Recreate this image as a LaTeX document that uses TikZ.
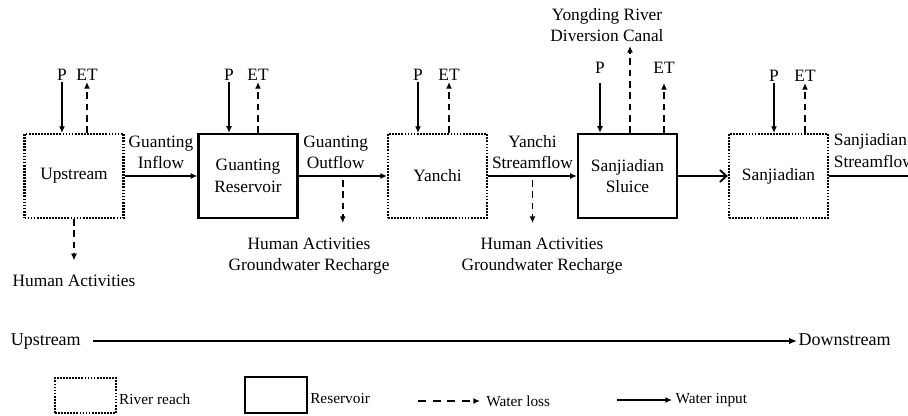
\documentclass[tikz,border=0pt]{standalone}
\usepackage{fontspec}
\setmainfont{Liberation Serif}
\usepackage{tikz}
\usetikzlibrary{arrows.meta,positioning}

\tikzset{
  reach/.style={draw,line width=1.6pt,dash pattern=on 1.3pt off 1pt,minimum width=74.25pt,minimum height=63pt,align=center},
  res/.style={draw,line width=1.7pt,minimum width=74.25pt,minimum height=63pt,align=center},
  flowin/.style={line width=1.25pt,-{Latex[length=5pt,width=4.5pt]}},
  loss/.style={line width=1.3pt,dash pattern=on 5pt off 3.5pt,-{Latex[length=5pt,width=4.5pt]}},
  pet/.style={anchor=south,inner sep=0pt,outer ysep=1.5pt},
  flab/.style={above=5pt,inner sep=0pt,align=center},
  ha/.style={align=center,inner sep=0pt,outer ysep=11pt,anchor=north},
  lgtext/.style={inner sep=0pt,font=\fontsize{11.5}{13}\selectfont}
}

\begin{document}
\begin{tikzpicture}[x=0.75pt,y=-0.75pt,font=\fontsize{13}{16}\selectfont]
\useasboundingbox (0,0) rectangle (908,415);

\node[reach] (up) at (74,176) {Upstream};
\node[res] (gr) at (248,176) {Guanting\\Reservoir};
\node[reach] (yc) at (437.5,176) {Yanchi};
\node[res] (sl) at (627.5,176) {Sanjiadian\\Sluice};
\node[reach] (sj) at (778.5,176) {Sanjiadian};

\node[pet] (pU) at (62,82) {P};
\node[pet] (eU) at (87,82) {ET};
\node[pet] (pG) at (229,82) {P};
\node[pet] (eG) at (258,82) {ET};
\node[pet] (pY) at (418,82) {P};
\node[pet] (eY) at (449,82) {ET};
\node[pet,outer ysep=7.5pt] (pS) at (600,83) {P};
\node[pet,outer ysep=7.5pt] (eS) at (664,83) {ET};
\node[pet] (pJ) at (774,83) {P};
\node[pet] (eJ) at (805,83) {ET};

\foreach \p/\e/\b in {pU/eU/up,pG/eG/gr,pY/eY/yc,pS/eS/sl,pJ/eJ/sj}{
  \draw[flowin] (\p) -- (\p |- \b.north);
  \draw[loss] (\e |- \b.north) -- (\e);
}

\node[align=center,inner sep=0pt] (canal) at (607,25) {Yongding River\\Diversion Canal};
\coordinate (cnl) at (630,46);
\draw[loss] (sl.north -| cnl) -- (cnl);

\draw[flowin] (up) -- node[flab] {Guanting\\Inflow} (gr);
\draw[flowin] (gr) -- node[flab,pos=0.42] {Guanting\\Outflow} coordinate[pos=0.5] (o1) (yc);
\draw[flowin] (yc) -- node[flab] {Yanchi\\Streamflow} coordinate[pos=0.5] (o2) (sl);
\draw[line width=1.25pt,-{Straight Barb[length=5pt,width=9pt,line width=1.4pt]}] (sl) -- (sj);
\coordinate (sjout) at (910,176);
\draw[line width=1.25pt] (sj) -- node[pos=0,anchor=south west,align=left,inner sep=0pt,xshift=3pt,yshift=6pt] {Sanjiadian\\Streamflow} (sjout);

\node[ha,below=31pt of up] (hu) {Human Activities};
\draw[loss] (up) -- (hu);
\node[ha] (hg1) at (309,223) {Human Activities\\Groundwater Recharge};
\draw[loss] ([yshift=-3pt]o1) -- (o1 |- hg1.north);
\node[ha] (hg2) at (542,223) {Human Activities\\Groundwater Recharge};
\draw[loss] ([yshift=-3pt]o2) -- (o2 |- hg2.north);

\node[anchor=east,inner xsep=9pt,text height=9pt,text depth=3pt,font=\fontsize{13.5}{16}\selectfont] (usl) at (93,341) {Upstream};
\node[anchor=west,inner xsep=1pt,text height=9pt,text depth=3pt,font=\fontsize{13.5}{16}\selectfont] (dsl) at (797,341) {Downstream};
\draw[line width=1.4pt,-{Latex[length=6pt,width=5pt]}] (usl) -- (dsl);

\node[reach,line width=1.4pt,minimum width=45.75pt,minimum height=26.25pt] (lrr) at (85.5,395.5) {};
\node[lgtext,right=1.5pt of lrr,yshift=-2.5pt] {River reach};
\node[res,line width=1.5pt,minimum width=46.5pt,minimum height=27pt] (lrs) at (276,395) {};
\node[lgtext,right=1.5pt of lrs,yshift=-2.5pt] {Reservoir};
\coordinate (lgl) at (418,401);
\node[lgtext,anchor=west,inner xsep=4.5pt] (wl) at (480,401) {Water loss};
\draw[line width=1.3pt,dash pattern=on 6pt off 5pt,-{Latex[length=5pt,width=4.5pt]}] (lgl) -- (wl);
\coordinate (lgi) at (617,400);
\node[lgtext,anchor=west,inner xsep=2.5pt] (wi) at (672,400) {Water input};
\draw[flowin] (lgi) -- (wi);
\end{tikzpicture}
\end{document}
